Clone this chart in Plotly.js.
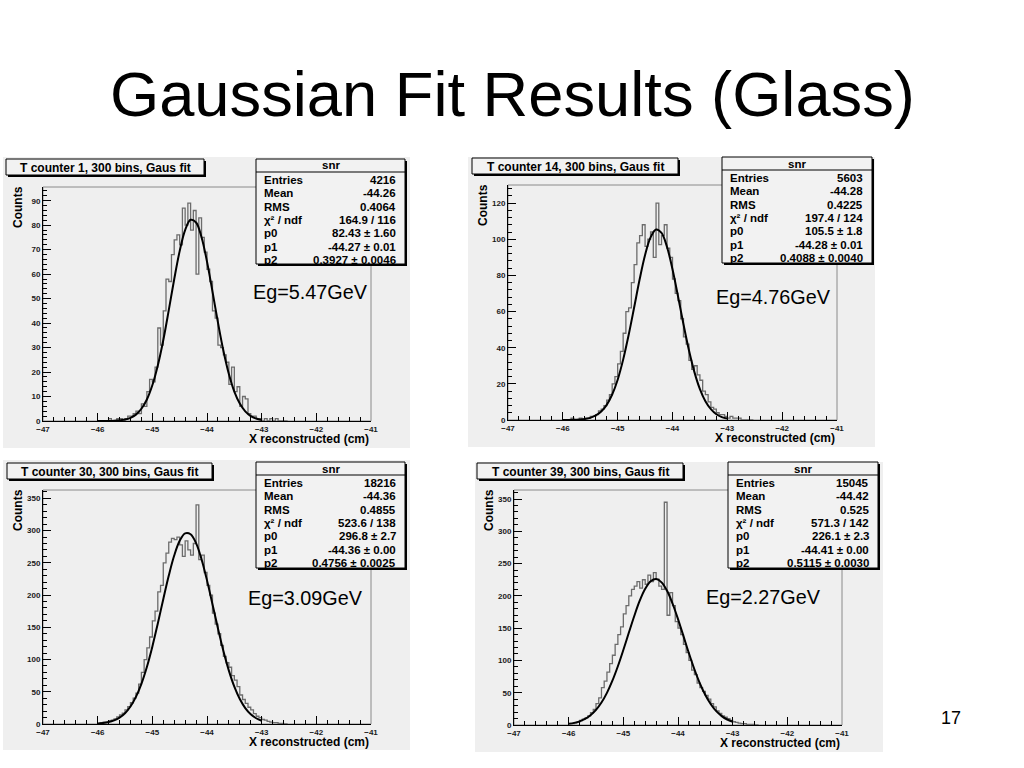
<!DOCTYPE html>
<html><head><meta charset="utf-8">
<script src="https://cdn.plot.ly/plotly-3.0.1.min.js"></script>
<style>html,body{margin:0;padding:0;background:#fff;}#chart{width:1024px;height:768px;}</style>
</head><body><div id="chart"></div>
<script>
// ---------- data ----------
const histStart = -45.975;   // centre of first 0.05-wide bin
const histStep = 0.05;
const fitStart = -46.0;
const fitStep = 0.1;

const hist1 = [0,0,0,0,1,0,0,1, 1,0,1,2,2,3,4,3, 7,6,12,17,16,22,38,31, 45,58,57,68,74,76,72,87,
  80,89,78,86,60,83,75,69, 62,57,45,42,31,30,27,24, 15,22,12,14,6,10,9,3, 2,2,1,1,0,1,0,1, 0,1,0,0,0,0];
const hist2 = [0,0,0,1,0,0,1,0, 1,1,2,2,3,5,6,8, 11,14,20,24,31,38,48,60, 62,76,86,98,102,108,96,100,
  104,90,120,97,102,108,95,90, 78,70,66,56,46,42,33,28, 30,25,22,16,14,10,7,6, 4,3,3,2,1,2,1,1, 1,0,0,0,0,0];
const hist3 = [1,2,3,3,5,6,8,11, 14,17,22,27,33,40,48,62, 80,100,118,135,160,175,205,215, 250,265,282,288,286,290,278,260,
  284,270,262,280,340,255,262,235, 215,200,172,155,140,122,105,95, 88,75,68,58,45,38,32,26, 22,16,12,10,7,6,4,3, 2,2,1,1,0,0];
const hist4 = [2,2,3,4,7,9,11,14, 19,24,33,42,58,68,82,95, 108,125,140,152,172,185,200,210, 215,222,212,225,218,232,222,236,
  226,215,210,345,170,205,185,160, 150,140,125,112,100,85,78,65, 58,52,46,40,33,28,22,18, 14,12,10,7,5,4,3,2, 2,1,1,1,0,0];

const fit1 = [0,0,0,0.1,0.3,0.6,1.3,2.6,5.0,8.8,14.6,22.7,33.0,45.2,57.9,69.4,78.0,82.2,81.1,75.1,65.1,52.9,40.3,28.7,19.2,12.0,7.1,3.9,2.0,1.0,0.4];
const fit2 = [0,0,0.1,0.3,0.6,1.2,2.5,4.7,8.4,14.1,22.3,33.4,47.0,62.2,77.7,91.3,101.0,105.4,103.5,95.7,83.4,68.5,53.0,38.6,26.5,17.1,10.4,6.0,3.2,1.6,0.8];
const fit3 = [0.8,1.6,3.0,5.6,9.9,16.8,27.2,42.1,62.4,88.5,120.0,155.9,193.6,229.9,261.3,284.2,295.8,294.4,280.5,255.6,222.8,185.9,148.4,113.3,82.8,57.9,38.7,24.7,15.1,8.9,5.0];
const fit4 = [1.8,3.3,5.6,9.4,15.1,23.4,34.8,49.8,68.6,91.0,116.2,142.8,168.9,192.5,211.0,222.6,226.1,220.9,207.8,188.2,164.1,137.7,111.1,86.3,64.5,46.4,32.2,21.4,13.8,8.5,5.1];

const panelTitles = ['T counter 1, 300 bins, Gaus fit','T counter 14, 300 bins, Gaus fit','T counter 30, 300 bins, Gaus fit','T counter 39, 300 bins, Gaus fit'];
const energies = ['Eg=5.47GeV','Eg=4.76GeV','Eg=3.09GeV','Eg=2.27GeV'];
const statNames = ['Entries','Mean','RMS','χ² / ndf','p0','p1','p2'];
const entries = ['4216','5603','18216','15045'];
const means = ['-44.26','-44.28','-44.36','-44.42'];
const rmsVals = ['0.4064','0.4225','0.4855','0.525'];
const chi2 = ['164.9 / 116','197.4 / 124','523.6 / 138','571.3 / 142'];
const p0 = ['82.43 ± 1.60','105.5 ± 1.8','296.8 ± 2.7','226.1 ± 2.3'];
const p1 = ['-44.27 ± 0.01','-44.28 ± 0.01','-44.36 ± 0.00','-44.41 ± 0.00'];
const p2 = ['0.3927 ± 0.0046','0.4088 ± 0.0040','0.4756 ± 0.0025','0.5115 ± 0.0030'];
const yMax = [95.6, 130, 363, 364];
const yDtick = [10, 20, 50, 50];
const yMinor = [2, 4, 10, 10];
const xTitle = 'X reconstructed (cm)';
const yTitle = 'Counts';
const slideTitle = 'Gaussian Fit Results (Glass)';
const pageNumber = '17';

// ---------- layout geometry (pixels) ----------
const W = 1024, H = 768;
const fx = p => p / W, fy = p => 1 - p / H;
const panels = [
  {bg:[3,157,410,448], plot:[43,187,371,421], tbox:[6,159,204,175], sbox:[256,159,405,264], eg:[310,292]},
  {bg:[468,157,875,447], plot:[508,185,837,420], tbox:[472,158,678,174], sbox:[722,157,872,263], eg:[773,297]},
  {bg:[3,460,410,750], plot:[43,490,371,724], tbox:[7,463,212,479], sbox:[256,462,405,568], eg:[305,598]},
  {bg:[475,462,883,752], plot:[514,490,842,725], tbox:[477,463,683,479], sbox:[728,462,878,568], eg:[763,597]}
];

function hasFont(name){
  const c = document.createElement('canvas').getContext('2d');
  const s = 'Gaussian Fit Results (Glass) 0123';
  c.font = '40px monospace'; const a = c.measureText(s).width;
  c.font = '40px "' + name + '", monospace'; const b = c.measureText(s).width;
  return Math.abs(a - b) > 0.5;
}
const slideFont = hasFont('Liberation Sans Narrow') ? 'Liberation Sans Narrow' : 'Liberation Sans';
function fitSize(text, family, targetW){
  const c = document.createElement('canvas').getContext('2d');
  c.font = '100px "' + family + '"';
  return 100 * targetW / c.measureText(text).width;
}
const titleSize = fitSize(slideTitle, slideFont, 805);
const egSize = fitSize('Eg=5.47GeV', slideFont, 114);

const hists = [hist1, hist2, hist3, hist4];
const fits = [fit1, fit2, fit3, fit4];
const traces = [];
const layout = {
  width: W, height: H, margin: {l:0, r:0, t:0, b:0},
  paper_bgcolor: '#ffffff', plot_bgcolor: 'rgba(0,0,0,0)',
  showlegend: false, shapes: [], annotations: []
};
const tickfont = {family: 'Liberation Sans', size: 8, color: '#1a1a1a', weight: 'bold'};
const boldFont = {family: 'Liberation Sans', size: 12, color: '#000', weight: 'bold'};
const statFont = {family: 'Liberation Sans', size: 11.5, color: '#000', weight: 'bold'};

function rectShape(b, fill, line, lw, layer){
  return {type:'rect', xref:'paper', yref:'paper', x0:fx(b[0]), x1:fx(b[2]), y0:fy(b[3]), y1:fy(b[1]),
    fillcolor: fill, line:{color: line, width: lw}, layer: layer || 'above'};
}
function txt(x, y, text, font, xa, ya, extra){
  return Object.assign({xref:'paper', yref:'paper', x:fx(x), y:fy(y), text:text, showarrow:false,
    font:font, xanchor:xa || 'center', yanchor:ya || 'middle'}, extra || {});
}

panels.forEach((p, i) => {
  const n = i === 0 ? '' : String(i + 1);
  const xa = 'x' + n, ya = 'y' + n;
  traces.push({type:'scatter', mode:'lines', x0: histStart, dx: histStep, y: hists[i], xaxis: xa, yaxis: ya,
    line:{color:'#6c6c6c', width:1.3, shape:'hvh'}, hoverinfo:'skip'});
  traces.push({type:'scatter', mode:'lines', x0: fitStart, dx: fitStep, y: fits[i], xaxis: xa, yaxis: ya,
    line:{color:'#000', width:2, shape:'spline', smoothing:1}, hoverinfo:'skip'});

  layout['xaxis' + n] = {domain:[fx(p.plot[0]), fx(p.plot[2])], range:[-47, -41], anchor: ya,
    tick0:-47, dtick:1, ticks:'inside', ticklen:8, tickwidth:1, tickcolor:'#000',
    minor:{dtick:0.2, ticklen:4, tickcolor:'#000', ticks:'inside', showgrid:false},
    showline:true, linecolor:'#000', linewidth:1, showgrid:false, zeroline:false,
    tickfont: tickfont, fixedrange:true};
  layout['yaxis' + n] = {domain:[fy(p.plot[3]), fy(p.plot[1])], range:[0, yMax[i]], anchor: xa,
    tick0:0, dtick:yDtick[i], ticks:'inside', ticklen:8, tickwidth:1, tickcolor:'#000',
    minor:{dtick:yMinor[i], ticklen:4, tickcolor:'#000', ticks:'inside', showgrid:false},
    showline:true, linecolor:'#000', linewidth:1, showgrid:false, zeroline:false,
    tickfont: tickfont, fixedrange:true};

  layout.shapes.push(rectShape(p.bg, '#efefef', '#efefef', 0, 'below'));
  layout.shapes.push(rectShape(p.plot, 'rgba(0,0,0,0)', '#8a8a8a', 1, 'below'));
  const t = p.tbox;
  layout.shapes.push(rectShape([t[0]+2, t[1]+2, t[2]+2, t[3]+2], '#000', '#000', 0));
  layout.shapes.push(rectShape(t, '#f2f2f2', '#000', 1));
  layout.annotations.push(txt((t[0]+t[2])/2, (t[1]+t[3])/2 + 0.5, '<b>' + panelTitles[i] + '</b>', boldFont));
  const s = p.sbox;
  layout.shapes.push(rectShape([s[0]+2, s[1]+2, s[2]+2, s[3]+2], '#000', '#000', 0));
  layout.shapes.push(rectShape(s, '#f2f2f2', '#000', 1));
  layout.shapes.push({type:'line', xref:'paper', yref:'paper', x0:fx(s[0]), x1:fx(s[2]), y0:fy(s[1]+13), y1:fy(s[1]+13),
    line:{color:'#000', width:1}});
  layout.annotations.push(txt((s[0]+s[2])/2, s[1]+6.5, '<b>snr</b>', statFont));
  const vals = [entries[i], means[i], rmsVals[i], chi2[i], p0[i], p1[i], p2[i]];
  statNames.forEach((nm, k) => {
    const yy = s[1] + 21 + 13.3 * k;
    layout.annotations.push(txt(s[0] + 6, yy, '<b>' + nm + '</b>', statFont, 'left'));
    layout.annotations.push(txt(s[2] - 7, yy, '<b>' + vals[k] + '</b>', statFont, 'right'));
  });
  layout.annotations.push(txt(p.plot[0] - 25, p.plot[1] + 20, '<b>' + yTitle + '</b>', boldFont, 'center', 'middle', {textangle:-90}));
  layout.annotations.push(txt(p.plot[2], p.plot[3] + 18, '<b>' + xTitle + '</b>', boldFont, 'right'));
  layout.annotations.push(txt(p.eg[0], p.eg[1], energies[i], {family: slideFont, size: egSize, color:'#000'}));
});

layout.annotations.push(txt(512, 94, slideTitle, {family: slideFont, size: titleSize, color:'#000'}));
layout.annotations.push(txt(951, 718, pageNumber, {family: slideFont, size: 18, color:'#000'}));

Plotly.newPlot('chart', traces, layout, {displayModeBar:false, staticPlot:true});
</script>
</body></html>
